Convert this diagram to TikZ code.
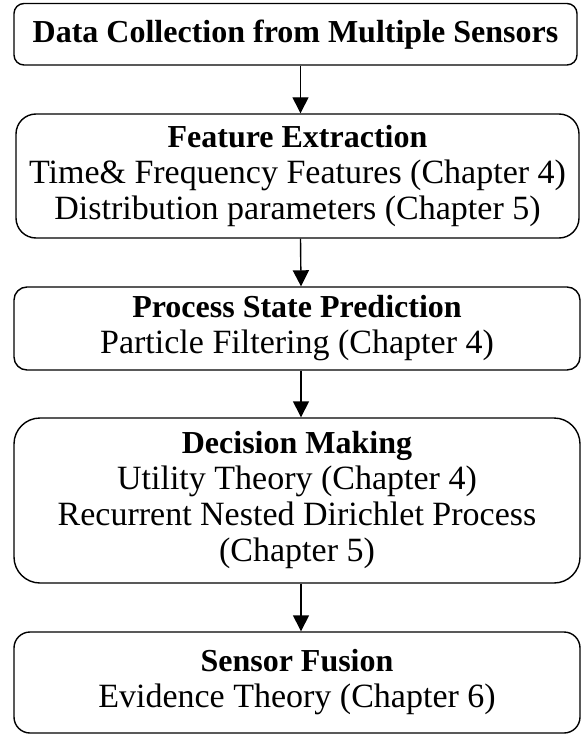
\documentclass[tikz,border=0pt]{standalone}
\usepackage{fontspec}
\setmainfont{Liberation Serif}
\usetikzlibrary{arrows.meta}
% bold headings are set a little smaller than the body lines
\newcommand{\stagehead}[1]{{\fontsize{32}{36}\selectfont\bfseries #1}}
\begin{document}
\begin{tikzpicture}[x=1pt,y=-1pt,
  stage/.style={draw=black, line width=1.4pt, inner sep=0pt, align=center,
    font=\fontsize{34}{36}\selectfont},
  flow/.style={line width=1.4pt, -{Triangle[width=16pt,length=16pt]}}]
\useasboundingbox (0,0) rectangle (581,735);

\node[stage, rounded corners=10pt, minimum width=563pt, minimum height=61.5pt] (collect) at (295.5,34.25)
  {\stagehead{Data Collection from Multiple Sensors}};
\node[stage, rounded corners=20pt, minimum width=563pt, minimum height=124pt] (feature) at (297.5,176)
  {\stagehead{Feature Extraction}\\Time\& Frequency Features (Chapter 4)\\Distribution parameters (Chapter 5)};
\node[stage, rounded corners=13pt, minimum width=566pt, minimum height=83pt] (predict) at (297,328.5)
  {\stagehead{Process State Prediction}\\Particle Filtering (Chapter 4)};
\node[stage, rounded corners=26pt, minimum width=566pt, minimum height=165pt] (decide) at (297,500.5)
  {\stagehead{Decision Making}\\Utility Theory (Chapter 4)\\Recurrent Nested Dirichlet Process\\(Chapter 5)};
\node[stage, rounded corners=16pt, minimum width=566pt, minimum height=101pt] (fuse) at (297,682.5)
  {\stagehead{Sensor Fusion}\\Evidence Theory (Chapter 6)};

\draw[flow] ([xshift=5pt]collect.south) -- ([xshift=3pt]feature.north);
\draw[flow] ([xshift=3pt]feature.south) -- ([xshift=4pt]predict.north);
\draw[flow] ([xshift=4pt]predict.south) -- ([xshift=4pt]decide.north);
\draw[flow] ([xshift=4pt]decide.south) -- ([xshift=4pt]fuse.north);
\end{tikzpicture}
\end{document}
